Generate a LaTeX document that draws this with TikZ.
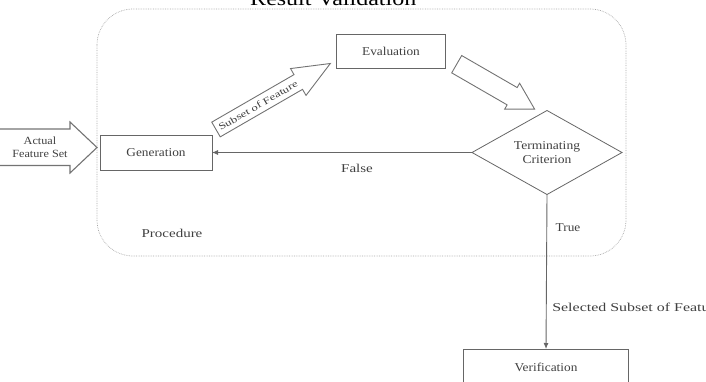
\documentclass[tikz,border=0pt]{standalone}
\usepackage{fontspec}
\setmainfont{Liberation Serif}
\usetikzlibrary{shapes.geometric,arrows.meta}
\begin{document}
\begin{tikzpicture}[x=1pt,y=-1pt,
  lbl/.style={text=black!75, inner sep=0pt, font=\fontsize{12}{14}\selectfont},
  box/.style={draw=black!60, line width=0.8pt, inner sep=0pt, outer sep=0pt,
    text=black!75, font=\fontsize{12}{14}\selectfont},
  decision/.style={diamond, draw=black!60, line width=0.8pt, aspect=1.79,
    minimum width=150pt, minimum height=84pt, inner sep=0pt, outer sep=0pt,
    text=black!75},
  blockarrow/.style={draw=black!55, line width=0.9pt, line join=miter},
  frame/.style={draw=black!35, densely dotted, line width=0.7pt, rounded corners=36pt},
  conn/.style={draw=black!60, line width=0.9pt, -{Latex[length=6pt,width=5pt]}}]
\useasboundingbox (0,0) rectangle (706,382);

% title (clipped at the top)
\node[text=black, inner sep=0pt, anchor=base west, xscale=1.2, font=\fontsize{20}{24}\selectfont] (title) at (250,6) {Result Validation};

% procedure frame
\draw[frame] (97,9) rectangle (626,256);
\node[lbl, xscale=1.25] (proc) at (172,233) {Procedure};

% nodes
\node[box, minimum width=112pt, minimum height=35pt] (gen) at (156,152.5) {};
\node[lbl, xscale=1.11] (gentxt) at (gen.center) {Generation};
\node[box, minimum width=109pt, minimum height=34pt] (eva) at (391,51) {};
\node[lbl, xscale=1.11] (evatxt) at (eva.center) {Evaluation};
\node[decision] (term) at (547,152.5) {};
\node[lbl, xscale=1.13, align=center] (termtxt) at (term.center) {Terminating\\Criterion};
\node[box, minimum width=165pt, minimum height=36pt] (ver) at (546,367) {};
\node[lbl, xscale=1.11] (vertxt) at (ver.center) {Verification};

% input block arrow
\draw[blockarrow, line width=1.1pt] (-2,129) -- (70,129) -- (70,122) -- (97,147.5) -- (70,173) -- (70,165.5) -- (-2,165.5);
\node[lbl, align=center, xscale=1.11, font=\fontsize{11}{13}\selectfont] (actual) at (40,147) {Actual\\Feature Set};

% subset block arrow
\draw[blockarrow, shift={(216,129.5)}, rotate=30]
  (0,-8.5) -- (95,-8.5) -- (95,-15.5) -- (132,0) -- (95,15.5) -- (95,8.5) -- (0,8.5) -- cycle;
\node[lbl, rotate=30, font=\fontsize{9.5}{11}\selectfont] (subsetlbl) at (258,105.5) {\scalebox{1.35}[1]{Subset of Feature}};

% evaluation -> criterion block arrow
\draw[blockarrow, shift={(456.7,64.2)}, rotate=-30]
  (0,-10) -- (64,-10) -- (64,-15) -- (90,0) -- (64,15) -- (64,10) -- (0,10) -- cycle;

% connectors
\draw[conn] (term.west) -- (gen.east);
\node[lbl, xscale=1.25] (false) at (357,168) {False};
\draw[conn] (term.south) -- (ver.north);
\node[lbl, xscale=1.11] (true) at (568,228) {True};
\node[lbl, anchor=west, xscale=1.33] (sel) at (552,307) {Selected Subset of Feature};
\end{tikzpicture}
\end{document}
